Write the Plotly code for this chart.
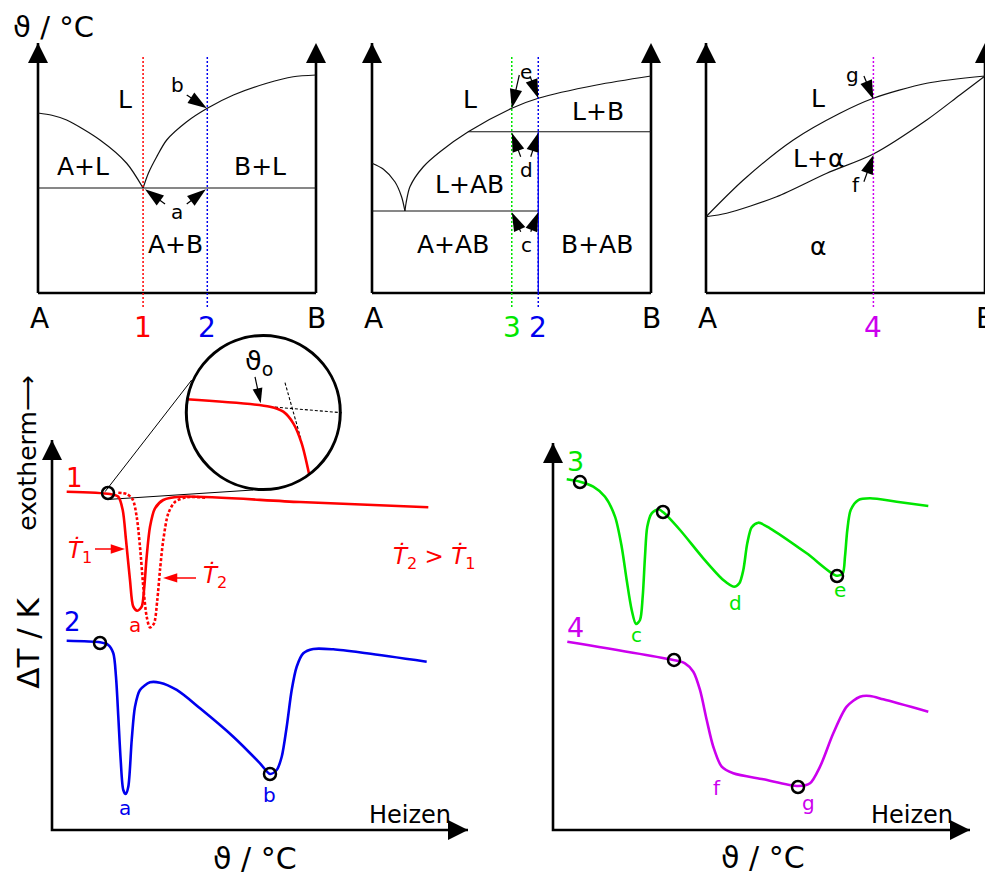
import plotly.graph_objects as go

W, H = 985, 876
FONT = "DejaVu Sans, Liberation Sans, Arial, sans-serif"
BLACK = "#000000"
LINE = "#111111"
RED = "#ff0000"
BLUE = "#0000ee"
GREEN = "#00e600"
MAGENTA = "#cc00ee"

# ================= DATA =================
# --- Phase diagram 1: simple eutectic A-B (x: % B, y: temperature, arb. units) ---
P1_LIQ_A_X = [0, 5.0, 10.3, 22.3, 31.9, 37.8]
P1_LIQ_A_Y = [72, 71.1, 69.2, 61.2, 51.9, 42]
P1_LIQ_B_X = [37.8, 39.7, 42.7, 46.3, 53.5, 60.9, 70.3, 82.3, 91.8, 100]
P1_LIQ_B_Y = [42, 47.9, 54.5, 61.2, 68.5, 73.9, 79.2, 83.9, 86.5, 87.2]
P1_EUTECTIC_T = 42
P1_ALLOY_X = [37.8, 60.9]            # alloys 1, 2
P1_ALLOY_COLORS = [RED, BLUE]
P1_ALLOY_NAMES = ["1", "2"]

# --- Phase diagram 2: compound AB with peritectic ---
P2_LIQ_A_X = [0, 4.1, 8.2, 10.6, 11.8]
P2_LIQ_A_Y = [51.9, 49.5, 44.5, 38.5, 32.8]
P2_LIQ_B_X = [11.8, 12.2, 13.6, 18.4, 24.4, 34.5, 50.1, 59.6, 80.5, 100]
P2_LIQ_B_Y = [32.8, 35.9, 42.5, 50.5, 56.5, 64.5, 73.9, 77.9, 83.2, 86.8]
P2_EUTECTIC_T = 32.8
P2_PERITECTIC_T = 64.5
P2_PERITECTIC_X0 = 34.5
P2_AB_X = 59.6
P2_ALLOY_X = [50.1, 59.6]            # alloys 3, 2
P2_ALLOY_COLORS = [GREEN, BLUE]
P2_ALLOY_NAMES = ["3", "2"]

# --- Phase diagram 3: complete solid solubility ---
P3_LIQUIDUS_X = [0, 13.4, 31.3, 48.0, 60.0, 79.1, 100]
P3_LIQUIDUS_Y = [30.5, 45.2, 61.2, 71.9, 77.9, 83.9, 86.8]
P3_SOLIDUS_X = [0, 7.4, 25.3, 43.3, 60.0, 79.1, 91.0, 100]
P3_SOLIDUS_Y = [30.5, 31.9, 38.5, 47.9, 55.6, 69.2, 79.2, 86.8]
P3_ALLOY_X = [60.0]                  # alloy 4
P3_ALLOY_COLORS = [MAGENTA]
P3_ALLOY_NAMES = ["4"]

ALLOY_T_RANGE = [-5.6, 94.4]

# --- DTA heating curves, left (x: temperature, y: delta T, arb. units) ---
C1_X = [3.53, 13.94, 15.94, 17.0, 17.79, 18.75, 19.54, 20.5, 21.56, 22.12, 22.76,
        23.56, 24.76, 26.75, 30.77, 59.6, 90.46]
C1_Y = [86.74, 86.15, 85.46, 82.05, 74.36, 64.10, 57.26, 56.23, 57.26, 61.54, 70.08,
        77.77, 82.49, 84.62, 85.46, 84.1, 82.74]
C1B_X = [15.94, 17.96, 19.4, 20.36, 21.15, 21.95, 22.76, 23.56, 24.52, 25.31, 25.96,
         26.75, 27.96, 29.57, 32.38, 37.19]
C1B_Y = [86.49, 86.15, 84.74, 80.33, 72.64, 62.38, 54.69, 51.92, 52.95, 58.97, 66.67,
         74.36, 81.2, 84.13, 85.31, 85.2]
C1_ONSET = (13.46, 86.41)
ZOOM_CENTER = (50.79, 107.05)
ZOOM_TANGENT_1 = ([12.74, 33.58], [86.74, 115.38])
ZOOM_TANGENT_2 = ([13.94, 48.39], [84.79, 87.18])
ZOOM_CURVE_X = [32.38, 52.4, 55.6, 58.0, 60.02, 61.85]
ZOOM_CURVE_Y = [110.44, 108.54, 107.26, 104.28, 99.15, 91.03]
ZOOM_BASE_X = [52.4, 69.64]
ZOOM_BASE_Y = [108.54, 107.0]
ZOOM_TANG_X = [56.01, 60.02]
ZOOM_TANG_Y = [114.69, 99.56]

C2_X = [3.53, 11.54, 13.53, 14.74, 15.38, 15.94, 16.51, 17.14, 17.72, 18.34, 19.16,
        19.95, 21.15, 23.56, 25.96, 29.98, 35.58, 43.58, 50.0, 52.4, 54.01, 55.22,
        56.42, 57.62, 58.82, 60.41, 62.81, 67.62, 75.65, 90.07]
C2_Y = [48.54, 48.13, 47.44, 45.31, 39.31, 29.05, 17.95, 10.26, 9.23, 11.1, 23.08,
        31.62, 35.9, 37.87, 37.77, 35.9, 31.21, 23.92, 17.1, 14.36, 15.38, 18.79,
        26.49, 35.9, 41.87, 45.31, 46.41, 46.33, 45.31, 43.15]
C2_MARKS_X = [11.54, 52.4]
C2_MARKS_Y = [47.95, 14.36]

# --- DTA heating curves, right ---
C3_X = [3.29, 6.47, 9.66, 12.47, 14.87, 16.47, 17.67, 18.87, 19.9, 20.86, 21.51,
        22.06, 22.61, 23.67, 25.25, 26.45, 30.46, 36.04, 40.84, 43.41, 44.68, 45.64,
        46.59, 47.65, 49.23, 52.04, 60.84, 68.03, 69.47, 70.02, 70.58, 71.39, 73.21,
        76.02, 82.42, 90.0]
C3_Y = [90.62, 90.0, 88.71, 86.12, 80.96, 73.2, 64.6, 56.85, 53.23, 54.26, 60.28,
        70.62, 78.37, 81.83, 82.87, 82.09, 77.52, 70.21, 64.6, 62.87, 63.75, 67.18,
        74.08, 78.22, 79.41, 77.96, 71.5, 65.71, 66.33, 70.62, 77.52, 82.69, 85.27,
        85.71, 84.83, 83.72]
C3_MARKS_X = [6.47, 26.38, 68.11]
C3_MARKS_Y = [89.92, 82.17, 65.63]

C4_X = [3.43, 28.85, 31.65, 33.65, 35.25, 36.86, 38.44, 40.46, 43.24, 50.43, 58.83,
        61.63, 64.03, 67.22, 70.43, 73.62, 76.02, 79.21, 90.0]
C4_Y = [48.66, 43.93, 43.07, 40.9, 36.18, 28.42, 21.52, 16.36, 14.65, 13.1, 11.37,
        12.07, 16.36, 24.99, 31.86, 34.44, 34.63, 33.77, 30.57]
C4_MARKS_X = [29.02, 58.75]
C4_MARKS_Y = [43.93, 11.11]

# ================= LAYOUT OF PANELS =================
# n, pixel origin of (0,0), px per unit, axis ranges
PANELS = {
    "P1": dict(n=1, px0=38, py0=293, sx=2.78, sy=2.5, xr=[-12, 108], yr=[-17, 110]),
    "P2": dict(n=2, px0=372, py0=293, sx=2.79, sy=2.5, xr=[-12, 108], yr=[-17, 110]),
    "P3": dict(n=3, px0=706, py0=293, sx=2.79, sy=2.5, xr=[-12, 100], yr=[-17, 110]),
    "D1": dict(n=4, px0=52, py0=830, sx=4.16, sy=3.9, xr=[-11, 104], yr=[-10, 128]),
    "D2": dict(n=5, px0=553, py0=830, sx=4.17, sy=3.87, xr=[-10, 103], yr=[-10, 102]),
}

fig = go.Figure()
layout_axes = {}
for key, p in PANELS.items():
    n = p["n"]
    xd = [(p["px0"] + p["xr"][0] * p["sx"]) / W, (p["px0"] + p["xr"][1] * p["sx"]) / W]
    yd = [(H - (p["py0"] - p["yr"][0] * p["sy"])) / H, (H - (p["py0"] - p["yr"][1] * p["sy"])) / H]
    xd = [max(0, min(1, v)) for v in xd]
    yd = [max(0, min(1, v)) for v in yd]
    sfx = "" if n == 1 else str(n)
    layout_axes["xaxis" + sfx] = dict(domain=xd, range=p["xr"], visible=False,
                                      anchor="y" + sfx, fixedrange=True)
    layout_axes["yaxis" + sfx] = dict(domain=yd, range=p["yr"], visible=False,
                                      anchor="x" + sfx, fixedrange=True)


def refs(panel):
    n = PANELS[panel]["n"]
    sfx = "" if n == 1 else str(n)
    return "x" + sfx, "y" + sfx


def line(panel, x, y, color=LINE, width=1.2, dash="solid", shape="spline", clip=True):
    xa, ya = refs(panel)
    fig.add_trace(go.Scatter(x=list(x), y=list(y), mode="lines", xaxis=xa, yaxis=ya,
                             line=dict(color=color, width=width, dash=dash, shape=shape,
                                       smoothing=0.8),
                             hoverinfo="skip", showlegend=False, cliponaxis=clip))


def arrow(panel, x0, y0, x1, y1, color=BLACK, width=1.2, size=20):
    xa, ya = refs(panel)
    fig.add_trace(go.Scatter(x=[x0, x1], y=[y0, y1], mode="lines+markers", xaxis=xa, yaxis=ya,
                             line=dict(color=color, width=width),
                             marker=dict(symbol="arrow", size=[0, size], color=color,
                                         opacity=1, angleref="previous", line=dict(width=0)),
                             hoverinfo="skip", showlegend=False, cliponaxis=False))


def frame(panel, pts_x, pts_y, symbols, width=2.6, size=20):
    xa, ya = refs(panel)
    sizes = [size if s != "circle" else 0 for s in symbols]
    fig.add_trace(go.Scatter(x=pts_x, y=pts_y, mode="lines+markers", xaxis=xa, yaxis=ya,
                             line=dict(color=BLACK, width=width),
                             marker=dict(symbol=symbols, size=sizes, color=BLACK, opacity=1,
                                         line=dict(width=0)),
                             hoverinfo="skip", showlegend=False, cliponaxis=True))


def rings(panel, x, y, size=12, width=2.5):
    xa, ya = refs(panel)
    fig.add_trace(go.Scatter(x=list(x), y=list(y), mode="markers", xaxis=xa, yaxis=ya,
                             marker=dict(symbol="circle-open", size=size, color=BLACK, opacity=1,
                                         line=dict(width=width, color=BLACK)),
                             hoverinfo="skip", showlegend=False, cliponaxis=False))


annotations = []


def txt(panel, x, y, s, size, color=BLACK, angle=0):
    xa, ya = refs(panel)
    annotations.append(dict(x=x, y=y, xref=xa, yref=ya, text=s, showarrow=False,
                            xanchor="center", yanchor="middle", textangle=angle,
                            font=dict(family=FONT, size=size, color=color)))


# ---------- phase diagram frames ----------
for key in ["P1", "P2", "P3"]:
    frame(key, [0, 0, 100, 100], [100, 0, 0, 100],
          ["arrow-up", "circle", "circle", "arrow-up"])

# ---------- phase diagram 1 ----------
line("P1", P1_LIQ_A_X, P1_LIQ_A_Y)
line("P1", P1_LIQ_B_X, P1_LIQ_B_Y)
line("P1", [0, 100], [P1_EUTECTIC_T, P1_EUTECTIC_T], shape="linear")
for xv, c in zip(P1_ALLOY_X, P1_ALLOY_COLORS):
    line("P1", [xv, xv], ALLOY_T_RANGE, color=c, width=1.5, dash="2px,2px", shape="linear")
arrow("P1", 53.5, 79.2, 60.7, 73.9)
arrow("P1", 45.7, 35.6, 38.5, 41.5)
arrow("P1", 53.5, 35.6, 60.4, 41.5)
txt("P1", 31.3, 77.2, "L", 25)
txt("P1", 16.2, 50.4, "A+L", 25)
txt("P1", 79.9, 50.4, "B+L", 25)
txt("P1", 49.3, 19.2, "A+B", 25)
txt("P1", 50, 32.4, "a", 20)
txt("P1", 50, 83.2, "b", 20)
txt("P1", 0.4, -10, "A", 28)
txt("P1", 100, -10, "B", 28)
for xv, c, nm in zip(P1_ALLOY_X, P1_ALLOY_COLORS, P1_ALLOY_NAMES):
    txt("P1", xv, -13.6, nm, 28, c)
txt("P1", 5.4, 106.4, "ϑ / °C", 29)

# ---------- phase diagram 2 ----------
line("P2", P2_LIQ_A_X, P2_LIQ_A_Y)
line("P2", P2_LIQ_B_X, P2_LIQ_B_Y)
line("P2", [0, P2_AB_X], [P2_EUTECTIC_T, P2_EUTECTIC_T], shape="linear")
line("P2", [P2_PERITECTIC_X0, 100], [P2_PERITECTIC_T, P2_PERITECTIC_T], shape="linear")
for xv, c in zip(P2_ALLOY_X, P2_ALLOY_COLORS):
    line("P2", [xv, xv], ALLOY_T_RANGE, color=c, width=1.5, dash="2px,2px", shape="linear")
line("P2", [P2_AB_X, P2_AB_X], [0, P2_PERITECTIC_T], color=BLUE, width=1.3, shape="linear")
arrow("P2", 52.8, 87.2, 50.1, 73.9)
arrow("P2", 56.6, 86.8, 59.6, 77.9)
arrow("P2", 53.3, 54.5, 50.1, 64.1)
arrow("P2", 56.9, 54.5, 59.6, 64.1)
arrow("P2", 53.3, 24.5, 50.1, 32.3)
arrow("P2", 56.9, 24.5, 59.6, 32.3)
txt("P2", 35.1, 77.2, "L", 25)
txt("P2", 81, 72.4, "L+B", 25)
txt("P2", 35.1, 43.2, "L+AB", 25)
txt("P2", 29, 19.2, "A+AB", 25)
txt("P2", 80.6, 19.2, "B+AB", 25)
txt("P2", 55.2, 88.5, "e", 20)
txt("P2", 55.2, 49.2, "d", 20)
txt("P2", 55.2, 19.2, "c", 20)
txt("P2", 0.4, -10, "A", 28)
txt("P2", 100, -10, "B", 28)
for xv, c, nm in zip(P2_ALLOY_X, P2_ALLOY_COLORS, P2_ALLOY_NAMES):
    txt("P2", xv, -13.6, nm, 28, c)

# ---------- phase diagram 3 ----------
line("P3", P3_LIQUIDUS_X, P3_LIQUIDUS_Y)
line("P3", P3_SOLIDUS_X, P3_SOLIDUS_Y)
for xv, c in zip(P3_ALLOY_X, P3_ALLOY_COLORS):
    line("P3", [xv, xv], ALLOY_T_RANGE, color=c, width=1.5, dash="2px,2px", shape="linear")
arrow("P3", 56.6, 86.8, 60.0, 77.5)
arrow("P3", 56.6, 44.5, 60.0, 55.2)
txt("P3", 40.3, 77.6, "L", 25)
txt("P3", 40.3, 53.9, "L+α", 25)
txt("P3", 40.3, 18.5, "α", 25)
txt("P3", 52.6, 87.2, "g", 20)
txt("P3", 53.9, 43.2, "f", 20)
txt("P3", 0.4, -10, "A", 28)
txt("P3", 100, -10, "B", 28)
for xv, c, nm in zip(P3_ALLOY_X, P3_ALLOY_COLORS, P3_ALLOY_NAMES):
    txt("P3", xv, -13.6, nm, 28, c)

# ---------- DTA frames ----------
for key in ["D1", "D2"]:
    frame(key, [0, 0, 100], [100, 0, 0], ["arrow-up", "circle", "arrow-right"])

# ---------- DTA left ----------
line("D1", ZOOM_TANGENT_1[0], ZOOM_TANGENT_1[1], color=BLACK, width=1, shape="linear", clip=False)
line("D1", ZOOM_TANGENT_2[0], ZOOM_TANGENT_2[1], color=BLACK, width=1, shape="linear", clip=False)
line("D1", C1B_X, C1B_Y, color=RED, width=2.6, dash="3px,2px")
line("D1", C1_X, C1_Y, color=RED, width=2.6)
line("D1", C2_X, C2_Y, color=BLUE, width=2.6)
rings("D1", [C1_ONSET[0]], [C1_ONSET[1]])
rings("D1", C2_MARKS_X, C2_MARKS_Y)
# magnifier
line("D1", ZOOM_BASE_X, ZOOM_BASE_Y, color=BLACK, width=1.1, dash="3px,2px", shape="linear", clip=False)
line("D1", ZOOM_TANG_X, ZOOM_TANG_Y, color=BLACK, width=1.1, dash="3px,2px", shape="linear", clip=False)
line("D1", ZOOM_CURVE_X, ZOOM_CURVE_Y, color=RED, width=2.6, clip=False)
xa, ya = refs("D1")
fig.add_trace(go.Scatter(x=[ZOOM_CENTER[0]], y=[ZOOM_CENTER[1]], mode="markers", xaxis=xa, yaxis=ya,
                         marker=dict(symbol="circle-open", size=154, color=BLACK, opacity=1,
                                     line=dict(width=3, color=BLACK)),
                         hoverinfo="skip", showlegend=False, cliponaxis=False))
arrow("D1", 48.8, 116.2, 50.17, 109.4, size=16)
txt("D1", 49.8, 120.0, "ϑ<sub>o</sub>", 27)
arrow("D1", 10.34, 72.05, 17.55, 72.05, color=RED, width=1.3, size=15)
arrow("D1", 34.62, 64.62, 26.68, 64.62, color=RED, width=1.3, size=15)
txt("D1", 6.7, 71.5, "<i>Ṫ</i><sub>1</sub>", 23, RED)
txt("D1", 39.2, 65.0, "<i>Ṫ</i><sub>2</sub>", 23, RED)
txt("D1", 92.0, 70.0, "<i>Ṫ</i><sub>2</sub> &gt; <i>Ṫ</i><sub>1</sub>", 23, RED)
txt("D1", 5.5, 90.3, "1", 26, RED)
txt("D1", 20.0, 52.6, "a", 20, RED)
txt("D1", 5.0, 53.3, "2", 26, BLUE)
txt("D1", 17.6, 5.6, "a", 20, BLUE)
txt("D1", 52.4, 9.0, "b", 20, BLUE)
txt("D1", 86.1, 3.9, "Heizen", 24)
txt("D1", 48.8, -7.2, "ϑ / °C", 30)
txt("D1", -5.8, 96.7, "exotherm⟶", 25, angle=-90)
txt("D1", -5.8, 48.0, "ΔT / K", 31, angle=-90)

# ---------- DTA right ----------
line("D2", C3_X, C3_Y, color=GREEN, width=2.6)
line("D2", C4_X, C4_Y, color=MAGENTA, width=2.6)
rings("D2", C3_MARKS_X, C3_MARKS_Y)
rings("D2", C4_MARKS_X, C4_MARKS_Y)
txt("D2", 5.3, 95.1, "3", 27, GREEN)
txt("D2", 20.1, 50.4, "c", 20, GREEN)
txt("D2", 43.7, 58.7, "d", 20, GREEN)
txt("D2", 68.8, 62.0, "e", 20, GREEN)
txt("D2", 5.3, 52.4, "4", 27, MAGENTA)
txt("D2", 39.3, 10.9, "f", 20, MAGENTA)
txt("D2", 61.2, 7.0, "g", 20, MAGENTA)
txt("D2", 86.1, 3.9, "Heizen", 24)
txt("D2", 50.4, -7.2, "ϑ / °C", 30)

fig.update_layout(width=W, height=H, margin=dict(l=0, r=0, t=0, b=0),
                  paper_bgcolor="white", plot_bgcolor="rgba(0,0,0,0)", showlegend=False,
                  annotations=annotations, **layout_axes)
fig.write_html("out.html")
